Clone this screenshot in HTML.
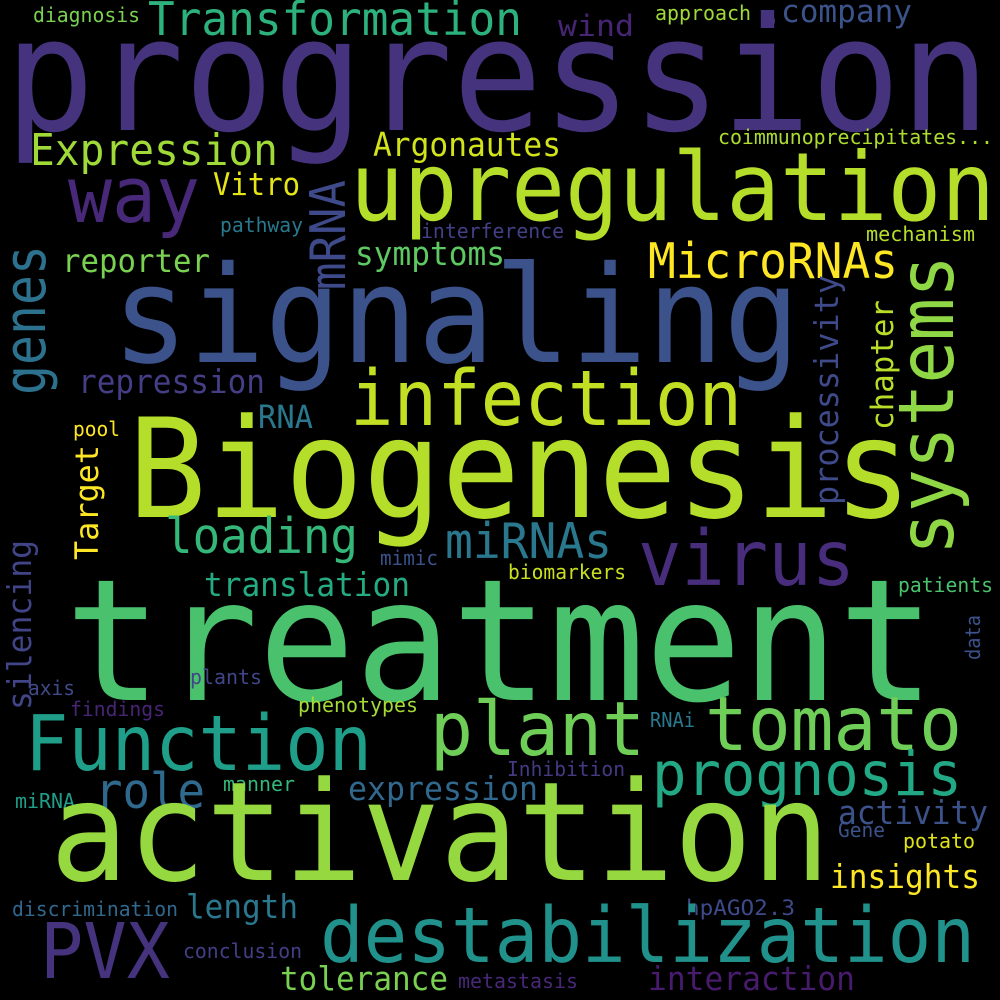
<!DOCTYPE html>
<html><head><meta charset="utf-8"><style>
html,body{margin:0;padding:0;background:#000;}
svg{display:block;}
text{font-family:"DejaVu Sans Mono","Liberation Mono",monospace;}
</style></head><body>
<svg id="cloud" width="1000" height="1000" viewBox="0 0 1000 1000" xmlns="http://www.w3.org/2000/svg">
<rect width="1000" height="1000" fill="#000"/>
<circle cx="768" cy="21" r="7" fill="#46337e"/>
</svg>
<script>
const words = ["progression","Transformation","diagnosis","approach","company","wind","Expression","Argonautes","coimmunoprecipitates...","way","upregulation","Vitro","pathway","interference","mechanism","reporter","symptoms","MicroRNAs","signaling","repression","infection","RNA","pool","Biogenesis","loading","miRNAs","virus","mimic","biomarkers","translation","treatment","patients","axis","plants","findings","phenotypes","Function","plant","tomato","RNAi","prognosis","role","manner","Inhibition","expression","miRNA","activation","activity","Gene","potato","insights","discrimination","length","hpAGO2.3","PVX","destabilization","conclusion","tolerance","metastasis","interaction"];
const xs = [5,148,33,655,781,558,30,373,718,68,350,213,220,421,866,62,355,648,112,78,350,258,73,128,165,445,638,380,508,204,65,898,28,190,70,298,25,430,705,650,652,95,223,507,348,15,50,838,838,903,830,12,186,686,40,320,183,280,458,648];
const ws = [985,374,107,96,131,76,248,188,275,132,645,87,83,143,109,148,150,250,688,187,392,55,47,784,193,167,217,58,118,206,870,95,47,72,95,120,347,215,257,45,310,110,72,118,190,60,780,150,47,72,150,166,112,109,130,655,119,168,120,207];
const ys = [130,35,22,20,22,36,165,156,144,222,220,195,232,238,241,272,265,278,362,393,425,428,436,517,553,558,585,565,579,596,700,592,695,684,716,712,770,755,750,727,795,808,791,776,800,808,880,824,837,848,888,916,918,915,978,962,958,990,988,990];
const sizes = [149,44,19,19,29,28,41,31,19,73,89,29,19,19,19,30,31,46,127,31,72,30,19,130,46,46,72,19,19,31,160,19,19,19,19,19,72,71,71,19,57,46,19,19,31,19,130,31,19,19,31,19,31,20,72,72,19,31,19,31];
const colors = ["#46337e","#2db27d","#7ad151","#a0da39","#3b528b","#482475","#a0da39","#d2e21b","#addc30","#482878","#b5de2b","#e5e419","#2a788e","#424086","#b5de2b","#7ad151","#5ec962","#fde725","#3b528b","#433e85","#c2df23","#2a788e","#fde725","#b5de2b","#35b779","#2a788e","#472d7b","#3b528b","#c8e020","#25ab82","#4ac16d","#4ac16d","#3e4a89","#404688","#482475","#a5db36","#1f9e89","#6ece58","#6ece58","#2a788e","#22a884","#30698e","#35b779","#443a83","#31688e","#1f9e89","#95d840","#3b528b","#3b528b","#dde318","#fde725","#31688e","#2a788e","#3e4a89","#46337e","#21918c","#433e85","#7ad151","#482878","#481b6d"];
const vWords = ["mRNA","genes","systems","processivity","chapter","Target","silencing","data"];
const vxs = [345,45,953,838,893,98,31,980];
const vys = [290,395,555,505,430,560,710,660];
const vls = [110,150,300,230,130,115,170,45];
const vsizes = [46,55,72,31,29,30,31,19];
const vcolors = ["#3e4a89","#2c728e","#8fd744","#3e4a89","#b8de29","#fde725","#414487","#3b528b"];

const svg = document.getElementById('cloud');
const NS = 'http://www.w3.org/2000/svg';
const SCALE = 1.06;
function slug(s){return s.toLowerCase().replace(/[^a-z0-9]+/g,'-').replace(/-+$/,'');}
words.forEach((w,i)=>{
  const t = document.createElementNS(NS,'text');
  t.setAttribute('x', xs[i]);
  t.setAttribute('y', ys[i]);
  t.setAttribute('font-size', sizes[i]*SCALE);
  t.setAttribute('fill', colors[i]);
  t.setAttribute('textLength', ws[i]);
  t.setAttribute('lengthAdjust', 'spacingAndGlyphs');
  
  
  t.textContent = w;
  svg.appendChild(t);
});
vWords.forEach((w,i)=>{
  const t = document.createElementNS(NS,'text');
  t.setAttribute('x', 0);
  t.setAttribute('y', 0);
  t.setAttribute('transform', 'translate(' + vxs[i] + ',' + vys[i] + ') rotate(-90)');
  t.setAttribute('font-size', vsizes[i]*SCALE);
  t.setAttribute('fill', vcolors[i]);
  t.setAttribute('textLength', vls[i]);
  t.setAttribute('lengthAdjust', 'spacingAndGlyphs');
  
  
  t.textContent = w;
  svg.appendChild(t);
});
</script>
</body></html>
